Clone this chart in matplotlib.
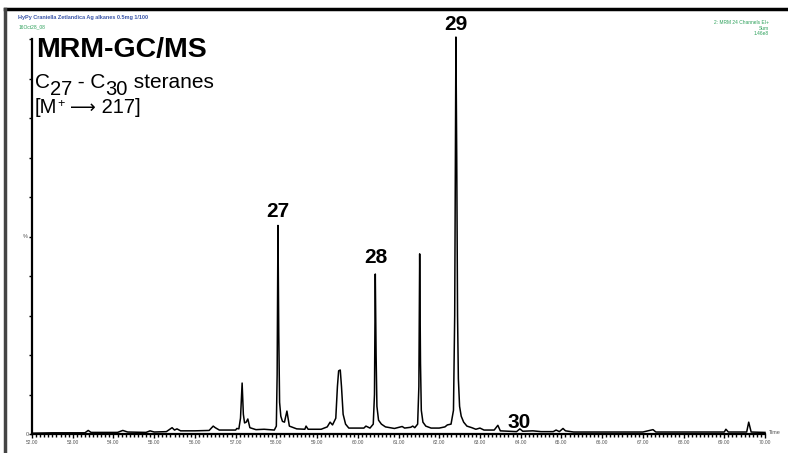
import matplotlib
matplotlib.use('Agg')
import matplotlib.pyplot as plt
from matplotlib.lines import Line2D
from matplotlib.ticker import MultipleLocator, FormatStrFormatter

plt.rcParams['font.family'] = ['Liberation Sans', 'DejaVu Sans']

# chromatogram trace: retention time (min), relative intensity (%)
times = [
    52.00, 52.50, 53.30, 53.38, 53.45, 54.10, 54.23, 54.35, 54.80, 54.90,
    55.00, 55.30, 55.44, 55.50, 55.56, 55.65, 56.00, 56.35, 56.45, 56.50,
    56.60, 57.00, 57.03, 57.08, 57.12, 57.16, 57.19, 57.22, 57.26, 57.30,
    57.35, 57.50, 57.70, 57.95, 58.00, 58.02, 58.04, 58.06, 58.08, 58.11,
    58.15, 58.20, 58.26, 58.32, 58.50, 58.70, 58.73, 58.78, 59.10, 59.25,
    59.32, 59.38, 59.46, 59.50, 59.53, 59.57, 59.60, 59.64, 59.70, 59.78,
    60.00, 60.15, 60.20, 60.30, 60.38, 60.41, 60.43, 60.45, 60.47, 60.51,
    60.58, 60.68, 60.90, 61.09, 61.15, 61.30, 61.35, 61.40, 61.47, 61.50,
    61.52, 61.54, 61.56, 61.60, 61.67, 61.80, 62.00, 62.14, 62.20, 62.29,
    62.35, 62.38, 62.41, 62.43, 62.45, 62.47, 62.50, 62.54, 62.60, 62.68,
    62.80, 62.90, 63.00, 63.10, 63.35, 63.44, 63.50, 63.90, 63.98, 64.05,
    64.30, 64.50, 64.80, 64.87, 64.95, 65.04, 65.10, 65.30, 66.00, 67.00,
    67.25, 67.32, 68.00, 68.50, 69.00, 69.04, 69.10, 69.55, 69.60, 69.66,
    70.00,
]
intensity = [
    0.2, 0.3, 0.3, 0.9, 0.4, 0.4, 0.9, 0.5, 0.4, 0.8,
    0.5, 0.6, 1.6, 1.0, 1.3, 0.8, 0.8, 0.9, 2.0, 1.6,
    1.0, 1.0, 1.4, 1.3, 4.0, 12.9, 5.0, 2.8, 3.0, 3.8,
    1.6, 1.1, 1.2, 1.0, 2.0, 15.0, 52.8, 25.0, 8.0, 4.5,
    3.2, 3.0, 5.8, 2.0, 1.3, 1.2, 2.0, 1.2, 1.2, 1.8,
    3.0, 2.3, 4.0, 12.0, 16.0, 16.2, 12.0, 5.0, 2.5, 1.5,
    1.5, 1.5, 2.0, 1.5, 2.5, 10.0, 40.5, 20.0, 7.0, 3.5,
    2.5, 1.8, 1.4, 1.9, 1.5, 1.7, 2.0, 1.6, 2.5, 12.0,
    45.6, 18.0, 6.0, 3.0, 2.0, 1.5, 1.5, 1.8, 2.3, 2.5,
    6.0, 30.0, 100.5, 70.0, 30.0, 14.0, 7.0, 4.5, 3.0, 2.0,
    1.6, 1.2, 1.5, 1.0, 1.0, 2.2, 0.8, 0.6, 1.3, 0.7,
    0.8, 0.6, 0.6, 1.0, 0.6, 1.4, 0.8, 0.5, 0.5, 0.5,
    1.1, 0.5, 0.5, 0.5, 0.5, 1.2, 0.5, 0.5, 3.0, 0.5,
    0.4,
]

# carbon-number labels and where they sit
peak_labels = ['27', '28', '29', '30']
label_times = [58.04, 60.44, 62.41, 63.97]
label_heights = [53.8, 42.2, 101.3, 0.4]

x_ticks = [52 + i for i in range(19)]

fig = plt.figure(figsize=(7.88, 4.53), dpi=100)
ax = fig.add_axes([32 / 788, 19 / 453, 733 / 788, 395 / 453])

ax.plot(times, intensity, color='black', lw=1.1, clip_on=False)
ax.set_xlim(52, 70)
ax.set_ylim(0, 100)

for s in ['top', 'right']:
    ax.spines[s].set_visible(False)
ax.spines['left'].set_linewidth(1.6)
ax.spines['bottom'].set_linewidth(1.6)

ax.set_xticks(x_ticks)
ax.xaxis.set_major_formatter(FormatStrFormatter('%.2f'))
ax.xaxis.set_minor_locator(MultipleLocator(0.1))
ax.tick_params(axis='x', which='major', length=3, width=1, labelsize=3.5,
               labelcolor='#555555', pad=1)
ax.tick_params(axis='x', which='minor', length=2, width=1)
ax.set_yticks(range(0, 101, 10))
ax.set_yticklabels([])
ax.tick_params(axis='y', length=2, width=1)

ax.text(-0.004, 0, '0', transform=ax.get_yaxis_transform(), fontsize=4,
        color='#555555', ha='right', va='center')
ax.text(-0.006, 50, '%', transform=ax.get_yaxis_transform(), fontsize=4,
        color='#555555', ha='right', va='center')
ax.text(70.1, 0.5, 'Time', fontsize=4, color='#555555', ha='left', va='center')

for lab, t, h in zip(peak_labels, label_times, label_heights):
    ax.text(t, h, lab, fontsize=15, fontweight='bold', ha='center', va='bottom',
            clip_on=False)

# header texts
fig.text(18 / 788, 1 - 17 / 453, 'HyPy Craniella Zetlandica Ag alkanes 0.5mg 1/100',
         fontsize=4, fontweight='bold', color='#3a55a8', va='center')
fig.text(19 / 788, 1 - 27 / 453, '16Oct28_08', fontsize=3.5, color='#2ca05a',
         va='center')
fig.text(769 / 788, 1 - 28 / 453, '2: MRM 24 Channels EI+\nSum\n1.46e8',
         fontsize=3.5, color='#2ca05a', ha='right', va='center',
         linespacing=1.2)

fig.text(36 / 788, 1 - 57 / 453, 'MRM-GC/MS', fontsize=20.5, fontweight='bold',
         va='baseline')


def text_run(x_px, base_px, pieces):
    # place pieces one after another; each piece: (text, size, dy in px, family)
    renderer = fig.canvas.get_renderer()
    x = x_px
    for s, size, dy, fam in pieces:
        t = fig.text(x / 788, 1 - (base_px + dy) / 453, s, fontsize=size,
                     va='baseline', family=fam)
        x += t.get_window_extent(renderer).width


sans = ['Liberation Sans', 'DejaVu Sans']
text_run(35, 88, [('C', 15, 0, sans), ('27', 14.5, 7, sans),
                  (' - C', 15, 0, sans), ('30', 14.5, 7, sans),
                  (' steranes', 15, 0, sans)])
text_run(35, 113, [('[M', 14.5, 0, sans), ('+', 9, -6, sans),
                   (' ', 14.5, 0, sans), ('\u27f6', 13, 0, ['DejaVu Sans']),
                   (' 217]', 14.5, 0, sans)])

# outer frame (top and left edges)
fig.add_artist(Line2D([5 / 788, 1], [1 - 9 / 453, 1 - 9 / 453],
                      transform=fig.transFigure, color='black', lw=2.5))
fig.add_artist(Line2D([5 / 788, 5 / 788], [0, 1 - 9 / 453],
                      transform=fig.transFigure, color='#444444', lw=2.5))

fig.savefig('out.png', dpi=100)
